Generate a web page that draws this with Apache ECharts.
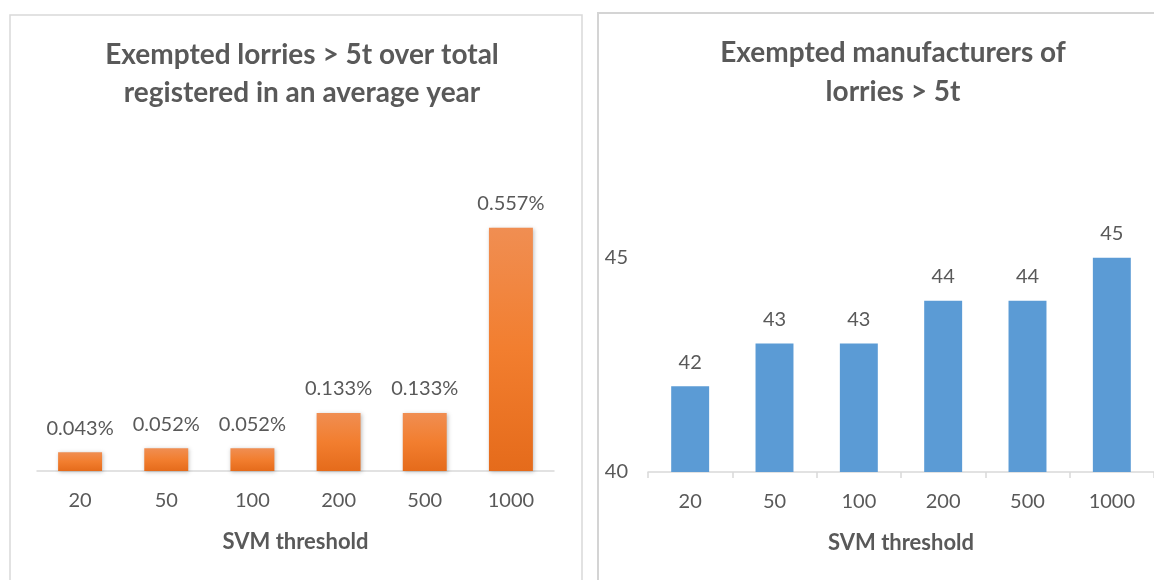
<!DOCTYPE html>
<html>
<head>
<meta charset="utf-8">
<script src="https://cdn.jsdelivr.net/npm/echarts@6/dist/echarts.min.js"></script>
<style>
  html, body { margin: 0; padding: 0; background: #ffffff; }
  #chart { width: 1154px; height: 580px; }
</style>
</head>
<body>
<div id="chart"></div>
<script>
// ─── data ───
const thresholds = ['20', '50', '100', '200', '500', '1000'];
const lorryShare = [0.043, 0.052, 0.052, 0.133, 0.133, 0.557];   // % of total registered
const manufacturers = [42, 43, 43, 44, 44, 45];

const TEXT = '#595959';
const FONT = 'Lato, "Open Sans", sans-serif';

const chart = echarts.init(document.getElementById('chart'), null, { renderer: 'canvas' });

const orange = new echarts.graphic.LinearGradient(0, 0, 0, 1, [
  { offset: 0, color: '#F08E52' },
  { offset: 0.5, color: '#F27E2F' },
  { offset: 1, color: '#E56B1B' },
]);

const xAxisCommon = {
  type: 'category',
  data: thresholds,
  name: 'SVM threshold',
  nameLocation: 'middle',
  nameGap: 60,
  nameTextStyle: { fontFamily: FONT, fontSize: 22, fontWeight: 'bold', color: TEXT },
  axisLabel: { fontFamily: FONT, fontSize: 20, color: TEXT, margin: 20 },
  axisLine: { lineStyle: { color: '#d9d9d9', width: 1.5 } },
};

chart.setOption({
  animation: false,
  backgroundColor: '#ffffff',
  textStyle: { fontFamily: FONT },
  graphic: [
    { type: 'rect', shape: { x: 10, y: 15, width: 572, height: 600 }, style: { fill: 'none', stroke: '#d9d9d9', lineWidth: 1.5 } },
    { type: 'rect', shape: { x: 598, y: 13, width: 600, height: 600 }, style: { fill: 'none', stroke: '#d4d4d4', lineWidth: 2 } },
  ],
  title: [
    {
      text: 'Exempted lorries > 5t over total\nregistered in an average year',
      left: 297, top: 31, textAlign: 'center',
      textStyle: { fontFamily: FONT, fontSize: 28, fontWeight: 'bold', color: TEXT, lineHeight: 38 },
    },
    {
      text: 'Exempted manufacturers of\nlorries > 5t',
      left: 888, top: 28, textAlign: 'center',
      textStyle: { fontFamily: FONT, fontSize: 28, fontWeight: 'bold', color: TEXT, lineHeight: 39 },
    },
  ],
  grid: [
    { left: 37, width: 517, top: 209, height: 262 },
    { left: 648, width: 512, top: 215, height: 257 },
  ],
  xAxis: [
    Object.assign({ gridIndex: 0, axisTick: { show: false } }, xAxisCommon),
    Object.assign({ gridIndex: 1, axisTick: { show: true, length: 6, lineStyle: { color: '#d9d9d9', width: 1.5 } } }, xAxisCommon),
  ],
  yAxis: [
    { gridIndex: 0, type: 'value', min: 0, max: 0.6, show: false },
    {
      gridIndex: 1, type: 'value', min: 40, max: 46, interval: 5,
      axisLine: { show: false }, axisTick: { show: false }, splitLine: { show: false },
      axisLabel: {
        fontFamily: FONT, fontSize: 20, color: TEXT, margin: 20,
        formatter: (v) => (v % 5 === 0 ? String(v) : ''),
      },
    },
  ],
  series: [
    {
      type: 'bar', xAxisIndex: 0, yAxisIndex: 0, data: lorryShare, barWidth: '51%',
      itemStyle: { color: orange, shadowColor: 'rgba(0,0,0,0.25)', shadowBlur: 4, shadowOffsetX: 1, shadowOffsetY: 1 },
      label: {
        show: true, position: 'top', distance: 14,
        fontFamily: FONT, fontSize: 20, color: TEXT,
        formatter: (p) => p.value.toFixed(3) + '%',
      },
    },
    {
      type: 'bar', xAxisIndex: 1, yAxisIndex: 1, data: manufacturers, barWidth: '45%',
      itemStyle: { color: '#5B9BD5' },
      label: { show: true, position: 'top', distance: 14, fontFamily: FONT, fontSize: 20, color: TEXT },
    },
  ],
});
</script>
</body>
</html>
